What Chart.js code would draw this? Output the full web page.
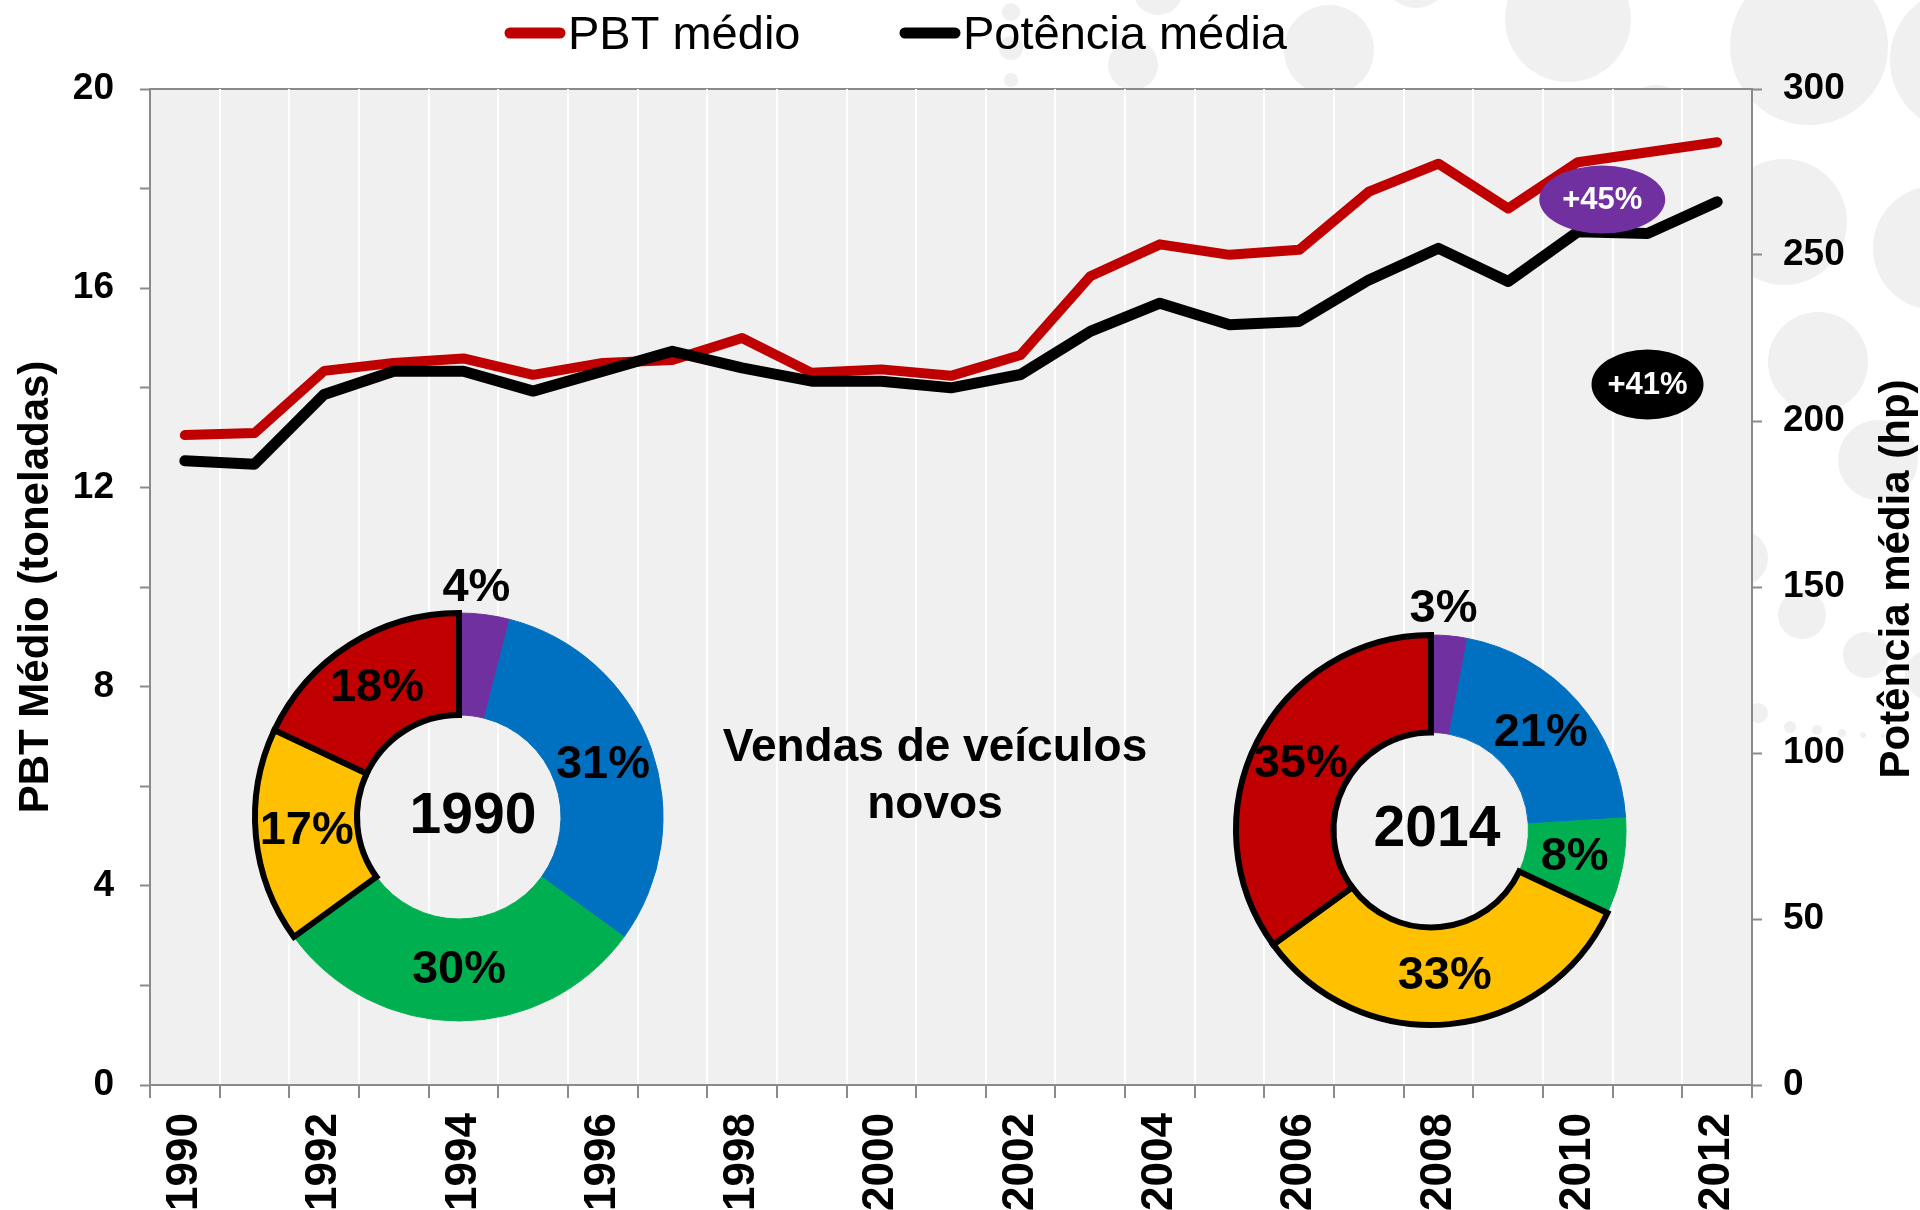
<!DOCTYPE html>
<html>
<head>
<meta charset="utf-8">
<script src="https://cdn.jsdelivr.net/npm/chart.js@4.4.1/dist/chart.umd.min.js"></script>
<style>
  body { margin: 0; background: #fff; }
  #wrap { position: relative; width: 1920px; height: 1210px; overflow: hidden; }
  #wrap canvas { position: absolute; }
</style>
</head>
<body>
<div id="wrap">
  <canvas id="mainChart" width="1920" height="1210" style="left:0;top:0"></canvas>
  <canvas id="donut1990" width="600" height="600" style="left:159px;top:517px"></canvas>
  <canvas id="donut2014" width="600" height="600" style="left:1131px;top:530px"></canvas>
</div>
<script>
// Years on the x axis
const years = ["1990", "1991", "1992", "1993", "1994", "1995", "1996", "1997", "1998", "1999", "2000", "2001",
  "2002", "2003", "2004", "2005", "2006", "2007", "2008", "2009", "2010", "2011", "2012"];
const yearLabels = ["1990", "1992", "1994", "1996", "1998", "2000", "2002", "2004", "2006", "2008", "2010", "2012"];

// PBT médio (toneladas) - left axis
const pbtMedio = [13.05, 13.09, 14.34, 14.50, 14.59, 14.26, 14.50, 14.56, 15.00, 14.30, 14.37, 14.24,
  14.66, 16.24, 16.88, 16.67, 16.77, 17.94, 18.50, 17.60, 18.53, 18.73, 18.93];

// Potência média (hp) - right axis
const potenciaMedia = [188, 187, 208, 215, 215, 209, 215, 221, 216, 212, 212, 210,
  214, 227, 235.5, 229, 230, 242.5, 252, 242, 257, 256.5, 266];

const pbtTicks = [0, 4, 8, 12, 16, 20];
const hpTicks = [0, 50, 100, 150, 200, 250, 300];

// Vendas de veículos novos (share per segment)
const shares1990 = [4, 31, 30, 17, 18];
const shares2014 = [3, 21, 8, 33, 35];
const segmentColors = ["#7030A0", "#0070C0", "#00B050", "#FFC000", "#C00000"];
const segmentHighlight = [false, false, false, true, true];

const FONT = '"Liberation Sans", Arial, sans-serif';
const axisGray = "#8a8a8a";

// light grey dots in the top right corner (decoration only)
const decoCircles = [
  [1568, 19, 63], [1809, 46, 79], [1962, 60, 72], [1784, 222, 63], [1935, 248, 62],
  [1818, 362, 50], [1878, 460, 40], [1740, 558, 28], [1802, 615, 24], [1866, 655, 23],
  [1930, 675, 25], [1758, 713, 10], [1790, 727, 6], [1817, 730, 5], [1842, 733, 4],
  [1863, 735, 3], [1883, 736, 2.5], [1902, 737, 2], [1329, 50, 45], [1133, 65, 25],
  [1158, -10, 25], [1416, -25, 33], [1656, 115, 30], [1011, 12, 9], [1011, 48, 12], [1011, 80, 7]
];

const backgroundPlugin = {
  id: "background",
  beforeDraw(chart) {
    const { ctx, chartArea: a } = chart;
    ctx.save();
    ctx.fillStyle = "#fff";
    ctx.fillRect(0, 0, chart.width, chart.height);
    ctx.fillStyle = "#f0f0f0";
    decoCircles.forEach(([x, y, r]) => {
      ctx.beginPath();
      ctx.arc(x, y, r, 0, Math.PI * 2);
      ctx.fill();
    });
    ctx.fillStyle = "#f0f0f0";
    ctx.fillRect(a.left, a.top, a.right - a.left, a.bottom - a.top);
    ctx.strokeStyle = axisGray;
    ctx.lineWidth = 2;
    ctx.beginPath();
    ctx.moveTo(a.left, a.top);
    ctx.lineTo(a.right, a.top);
    ctx.stroke();
    ctx.restore();
  }
};

// legend, right axis title, middle caption and the two growth badges
const overlayPlugin = {
  id: "overlay",
  afterDraw(chart) {
    const { ctx, scales } = chart;
    ctx.save();

    // legend
    const legendItems = [{ ds: 0, x: 505 }, { ds: 1, x: 900 }];
    legendItems.forEach(item => {
      const ds = chart.data.datasets[item.ds];
      ctx.strokeStyle = ds.borderColor;
      ctx.lineWidth = 11;
      ctx.lineCap = "round";
      ctx.beginPath();
      ctx.moveTo(item.x + 5, 33);
      ctx.lineTo(item.x + 55, 33);
      ctx.stroke();
      ctx.fillStyle = "#000";
      ctx.font = "47px " + FONT;
      ctx.textAlign = "left";
      ctx.textBaseline = "alphabetic";
      ctx.fillText(ds.label, item.x + 63, 49);
    });

    // right axis title (reads bottom to top)
    ctx.save();
    ctx.translate(1897, 579);
    ctx.rotate(-Math.PI / 2);
    ctx.font = "bold 42px " + FONT;
    ctx.textAlign = "center";
    ctx.textBaseline = "middle";
    ctx.fillText("Potência média (hp)", 0, 0);
    ctx.restore();

    // caption
    ctx.font = "bold 46px " + FONT;
    ctx.textAlign = "center";
    ctx.textBaseline = "alphabetic";
    ctx.fillStyle = "#000";
    ctx.fillText("Vendas de veículos", 935, 761);
    ctx.fillText("novos", 935, 818);

    // growth badges
    const badges = [
      { x: scales.x.getPixelForValue(20.35), y: scales.y.getPixelForValue(17.78), rx: 63, ry: 34, color: "#7030A0", text: "+45%" },
      { x: scales.x.getPixelForValue(21), y: scales.y1.getPixelForValue(211), rx: 56, ry: 35, color: "#000000", text: "+41%" }
    ];
    badges.forEach(b => {
      ctx.fillStyle = b.color;
      ctx.beginPath();
      ctx.ellipse(b.x, b.y, b.rx, b.ry, 0, 0, Math.PI * 2);
      ctx.fill();
      ctx.fillStyle = "#fff";
      ctx.font = "bold 31px " + FONT;
      ctx.textAlign = "center";
      ctx.textBaseline = "middle";
      ctx.fillText(b.text, b.x, b.y + 1);
    });
    ctx.restore();
  }
};

new Chart(document.getElementById("mainChart"), {
  type: "line",
  data: {
    labels: years,
    datasets: [
      {
        label: "PBT médio", data: pbtMedio, yAxisID: "y",
        borderColor: "#C00000", backgroundColor: "#C00000", borderWidth: 10,
        pointRadius: 0, tension: 0, borderCapStyle: "round", borderJoinStyle: "round", order: 2
      },
      {
        label: "Potência média", data: potenciaMedia, yAxisID: "y1",
        borderColor: "#000000", backgroundColor: "#000000", borderWidth: 11,
        pointRadius: 0, tension: 0, borderCapStyle: "round", borderJoinStyle: "round", order: 1
      }
    ]
  },
  options: {
    responsive: false,
    animation: false,
    devicePixelRatio: 1,
    events: [],
    layout: { padding: { top: 89, left: 0, right: 0, bottom: 0 } },
    plugins: { legend: { display: false }, tooltip: { enabled: false } },
    scales: {
      x: {
        offset: true,
        grid: {
          offset: true,
          color: ctx => (ctx.index === 0 || ctx.index >= years.length) ? "rgba(0,0,0,0)" : "#ffffff",
          lineWidth: 2,
          tickColor: axisGray,
          tickWidth: 2,
          tickLength: 13
        },
        border: { color: axisGray, width: 2 },
        ticks: {
          autoSkip: false,
          minRotation: 90,
          maxRotation: 90,
          padding: 15,
          color: "#000",
          font: { family: FONT, size: 44, weight: "bold" },
          callback: function (v) {
            const l = this.getLabelForValue(v);
            return yearLabels.includes(l) ? l : "";
          }
        },
        afterFit: s => { s.height = 125; }
      },
      y: {
        position: "left",
        min: 0, max: 20,
        grid: { drawOnChartArea: false, tickLength: 10, tickColor: axisGray, tickWidth: 2 },
        border: { color: axisGray, width: 2 },
        ticks: {
          stepSize: 2,
          padding: 26,
          color: "#000",
          font: { family: FONT, size: 37, weight: "bold" },
          callback: v => pbtTicks.includes(v) ? v : ""
        },
        title: {
          display: true,
          text: "PBT Médio (toneladas)",
          color: "#000",
          font: { family: FONT, size: 42, weight: "bold" },
          padding: { top: 11, bottom: 0 }
        },
        afterFit: s => { s.width = 150; }
      },
      y1: {
        position: "right",
        min: 0, max: 300,
        grid: { drawOnChartArea: false, tickLength: 10, tickColor: axisGray, tickWidth: 2 },
        border: { color: axisGray, width: 2 },
        ticks: {
          stepSize: 50,
          padding: 21,
          color: "#000",
          font: { family: FONT, size: 37, weight: "bold" },
          callback: v => hpTicks.includes(v) ? v : ""
        },
        afterFit: s => { s.width = 168; }
      }
    }
  },
  plugins: [backgroundPlugin, overlayPlugin]
});

// percentage labels and the year in the hole
function donutLabels(yearText, centerShift) {
  return {
    id: "donutLabels",
    afterDatasetsDraw(chart) {
      const { ctx } = chart;
      const meta = chart.getDatasetMeta(0);
      const values = chart.data.datasets[0].data;
      ctx.save();
      ctx.fillStyle = "#000";
      ctx.textAlign = "center";
      ctx.textBaseline = "middle";
      ctx.font = "bold 47px " + FONT;
      meta.data.forEach((arc, i) => {
        let pos;
        if (values[i] < 5) {
          const p = arc.getProps(["x", "y", "startAngle", "endAngle", "outerRadius"], true);
          const mid = (p.startAngle + p.endAngle) / 2;
          const r = p.outerRadius + 27;
          pos = { x: p.x + Math.cos(mid) * r * 0.6, y: p.y + Math.sin(mid) * r };
        } else {
          pos = arc.tooltipPosition(true);
        }
        ctx.fillText(values[i] + "%", pos.x, pos.y);
      });
      const c = meta.data[0];
      ctx.font = "bold 57px " + FONT;
      ctx.fillText(yearText, c.x + centerShift, c.y);
      ctx.restore();
    }
  };
}

function makeDonut(id, yearText, shares, radius, centerShift) {
  return new Chart(document.getElementById(id), {
    type: "doughnut",
    data: {
      datasets: [{
        data: shares,
        backgroundColor: segmentColors,
        borderColor: segmentColors.map((c, i) => segmentHighlight[i] ? "#000" : c),
        borderWidth: segmentHighlight.map(h => h ? 6 : 1),
        borderJoinStyle: "miter"
      }]
    },
    options: {
      responsive: false,
      animation: false,
      devicePixelRatio: 1,
      events: [],
      radius: radius,
      cutout: "50%",
      plugins: { legend: { display: false }, tooltip: { enabled: false } }
    },
    plugins: [donutLabels(yearText, centerShift)]
  });
}

makeDonut("donut1990", "1990", shares1990, 204, 14);
makeDonut("donut2014", "2014", shares2014, 195, 6);
</script>
</body>
</html>
